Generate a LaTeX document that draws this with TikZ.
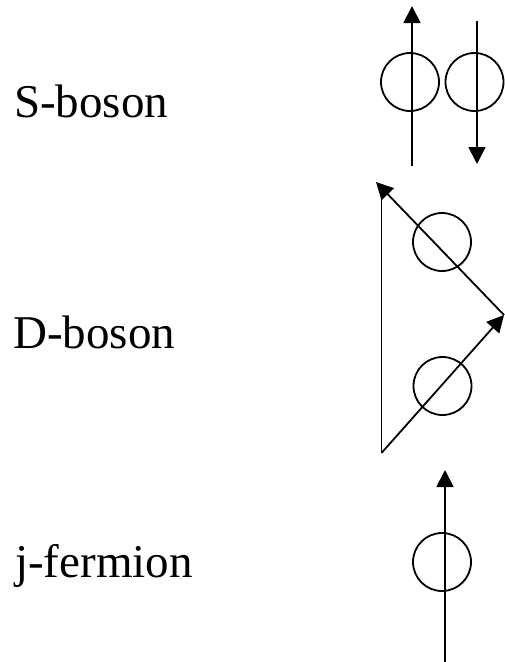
\documentclass[tikz,border=0pt]{standalone}
\usepackage{fontspec}
\setmainfont{Liberation Serif}
\usetikzlibrary{arrows.meta}

\begin{document}
\begin{tikzpicture}[x=1pt, y=-1pt,
    lbl/.style={anchor=base west, inner sep=0pt, font=\fontsize{47}{56}\selectfont},
    spin/.style={circle, draw, line width=1.8pt, minimum size=58pt, inner sep=0pt},
    vec/.style={line width=1.8pt, -{Triangle[length=17pt, width=17pt]}},
    bare/.style={line width=1.8pt}]

    \useasboundingbox (0,0) rectangle (505,662);

    % labels
    \node[lbl] (S) at (14,117) {S-boson};
    \node[lbl] (D) at (13,348) {D-boson};
    \node[lbl] (J) at (15,577) {j-fermion};

    % S-boson
    \node[spin] (S1) at (410,82) {};
    \node[spin] (S2) at (474.5,82) {};
    \coordinate (S1a) at (412,166);
    \coordinate (S1b) at (412,6);
    \coordinate (S2a) at (477,21);
    \coordinate (S2b) at (477,164);
    \draw[vec] (S1a) -- (S1b);
    \draw[vec] (S2a) -- (S2b);

    % D-boson
    \node[spin] (D1) at (442,242) {};
    \node[spin] (D2) at (442.5,386) {};
    \coordinate (Dl) at (381.5,453);
    \coordinate (Dt) at (381.5,184);
    \coordinate (Dtip) at (376,182);
    \coordinate (Dr) at (504,315);
    \draw[bare] (Dl) -- (Dt);
    \draw[vec] (Dl) -- (Dr);
    \draw[vec] (Dr) -- (Dtip);

    % j-fermion
    \node[spin] (J1) at (442,562) {};
    \coordinate (Ja) at (445,662);
    \coordinate (Jb) at (445,470);
    \draw[vec] (Ja) -- (Jb);
\end{tikzpicture}
\end{document}
